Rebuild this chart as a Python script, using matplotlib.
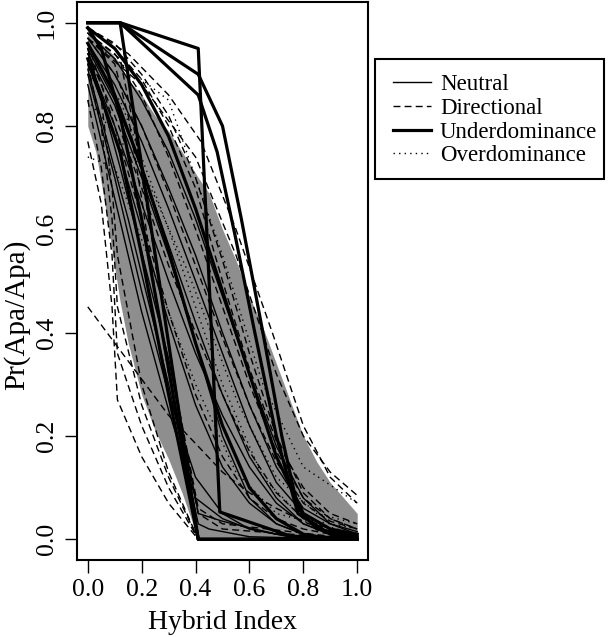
import matplotlib
matplotlib.use("Agg")
import matplotlib.pyplot as plt
from matplotlib.lines import Line2D
from matplotlib.patches import Rectangle

plt.rcParams['font.family'] = ['Liberation Serif', 'DejaVu Serif']

# common hybrid index grid for the smooth clines
hi_grid = [0.0, 0.1, 0.2, 0.3, 0.4, 0.5, 0.6, 0.7, 0.8, 0.9, 1.0]

# grey envelope (neutral expectation)
band_x = [0.0, 0.03, 0.06, 0.09, 0.12, 0.15, 0.2, 0.25, 0.3, 0.35, 0.41, 0.45,
          0.5, 0.55, 0.6, 0.65, 0.7, 0.75, 0.8, 0.85, 0.9, 0.95, 1.0]
band_hi = [0.98, 0.97, 0.955, 0.94, 0.92, 0.89, 0.86, 0.82, 0.79, 0.75, 0.70, 0.67,
           0.60, 0.54, 0.47, 0.41, 0.34, 0.27, 0.20, 0.15, 0.11, 0.08, 0.05]
band_lo = [0.80, 0.75, 0.66, 0.56, 0.46, 0.38, 0.28, 0.21, 0.155, 0.09, 0.0, 0.0,
           0.0, 0.0, 0.0, 0.0, 0.0, 0.0, 0.0, 0.0, 0.0, 0.0, 0.0]

# neutral clines (thin solid)
neutral_y = [
    [0.97, 0.90, 0.80, 0.68, 0.55, 0.40, 0.26, 0.14, 0.06, 0.03, 0.01],
    [0.95, 0.85, 0.72, 0.57, 0.42, 0.28, 0.16, 0.08, 0.03, 0.01, 0.005],
    [0.92, 0.78, 0.60, 0.42, 0.26, 0.14, 0.07, 0.03, 0.01, 0.005, 0.0],
    [0.96, 0.88, 0.77, 0.64, 0.50, 0.36, 0.22, 0.11, 0.05, 0.02, 0.01],
    [0.90, 0.70, 0.48, 0.28, 0.12, 0.05, 0.02, 0.01, 0.0, 0.0, 0.0],
    [0.98, 0.93, 0.85, 0.75, 0.62, 0.47, 0.32, 0.18, 0.08, 0.03, 0.015],
    [0.93, 0.80, 0.65, 0.50, 0.36, 0.24, 0.14, 0.07, 0.03, 0.01, 0.005],
    [0.88, 0.66, 0.44, 0.25, 0.08, 0.04, 0.02, 0.01, 0.0, 0.0, 0.0],
    [0.94, 0.84, 0.70, 0.55, 0.38, 0.20, 0.08, 0.03, 0.01, 0.0, 0.0],
]
neutral_kink_x = [[0.0, 0.12, 0.3, 0.41, 0.5, 0.7, 1.0],
                  [0.0, 0.15, 0.3, 0.41, 0.45, 0.6, 1.0]]
neutral_kink_y = [[0.95, 0.72, 0.35, 0.05, 0.035, 0.01, 0.0],
                  [0.91, 0.62, 0.30, 0.03, 0.02, 0.005, 0.0]]

# directional clines (dashed)
directional_y = [
    [0.98, 0.94, 0.86, 0.74, 0.60, 0.45, 0.30, 0.17, 0.08, 0.04, 0.02],
    [0.97, 0.90, 0.80, 0.67, 0.53, 0.39, 0.26, 0.15, 0.07, 0.035, 0.02],
    [0.96, 0.80, 0.62, 0.44, 0.28, 0.16, 0.08, 0.04, 0.02, 0.01, 0.0],
    [0.94, 0.82, 0.68, 0.53, 0.40, 0.28, 0.17, 0.09, 0.04, 0.02, 0.01],
    [0.99, 0.96, 0.90, 0.82, 0.70, 0.54, 0.36, 0.20, 0.09, 0.04, 0.02],
    [0.99, 0.95, 0.89, 0.80, 0.68, 0.50, 0.33, 0.19, 0.10, 0.05, 0.03],
]
directional_kink_x = [
    [0.0, 0.05, 0.09, 0.11, 0.2, 0.3, 0.41, 1.0],
    [0.0, 0.05, 0.09, 0.11, 0.2, 0.3, 0.41, 1.0],
    [0.0, 0.05, 0.09, 0.11, 0.2, 0.3, 0.41, 1.0],
    [0.0, 0.05, 0.09, 0.11, 0.2, 0.3, 0.41, 1.0],
    [0.0, 0.1, 0.15, 0.2, 0.25, 0.3, 0.41, 0.5, 1.0],
    [0.0, 0.12, 0.17, 0.22, 0.28, 0.34, 0.41, 0.5, 1.0],
    [0.0, 0.1, 0.2, 0.3, 0.41, 0.5, 0.6, 0.7, 0.82, 1.0],
    [0.0, 0.15, 0.3, 0.42, 0.55, 0.685, 0.8, 0.9, 1.0],
    [0.0, 0.2, 0.4, 0.55, 0.7, 0.8, 0.9, 1.0],
]
directional_kink_y = [
    [0.77, 0.65, 0.45, 0.27, 0.16, 0.07, 0.0, 0.0],
    [0.85, 0.72, 0.55, 0.36, 0.22, 0.10, 0.0, 0.0],
    [0.95, 0.85, 0.68, 0.55, 0.30, 0.13, 0.0, 0.0],
    [0.92, 0.80, 0.62, 0.45, 0.26, 0.12, 0.0, 0.0],
    [0.97, 0.92, 0.82, 0.66, 0.48, 0.32, 0.05, 0.02, 0.0],
    [0.98, 0.93, 0.80, 0.64, 0.45, 0.25, 0.06, 0.03, 0.0],
    [0.45, 0.38, 0.31, 0.24, 0.18, 0.13, 0.09, 0.06, 0.03, 0.01],
    [0.99, 0.94, 0.86, 0.77, 0.60, 0.40, 0.22, 0.12, 0.07],
    [0.97, 0.88, 0.74, 0.55, 0.32, 0.20, 0.13, 0.085],
]

# underdominance clines (thick solid)
under_x = [
    [0.0, 0.12, 0.41, 0.49, 0.76, 1.0],
    [0.0, 0.12, 0.41, 0.5, 0.57, 0.65, 0.72, 0.78, 0.85, 1.0],
    [0.0, 0.12, 0.41, 0.48, 0.55, 0.62, 0.70, 0.78, 0.9, 1.0],
    [0.0, 0.12, 0.41, 1.0],
    [0.0, 0.05, 0.12, 0.2, 0.3, 0.41, 1.0],
    [0.0, 0.12, 0.2, 0.3, 0.41, 1.0],
    hi_grid,
    hi_grid,
]
under_y = [
    [1.0, 1.0, 0.95, 0.053, 0.005, 0.0],
    [1.0, 1.0, 0.90, 0.80, 0.62, 0.40, 0.20, 0.06, 0.02, 0.005],
    [1.0, 1.0, 0.86, 0.75, 0.58, 0.40, 0.20, 0.05, 0.01, 0.0],
    [1.0, 1.0, 0.0, 0.0],
    [0.99, 0.95, 0.82, 0.62, 0.33, 0.0, 0.0],
    [0.93, 0.75, 0.55, 0.28, 0.0, 0.0],
    [0.99, 0.95, 0.88, 0.78, 0.64, 0.48, 0.32, 0.16, 0.05, 0.02, 0.01],
    [0.96, 0.86, 0.72, 0.56, 0.38, 0.22, 0.10, 0.04, 0.01, 0.0, 0.0],
]

# overdominance clines (dotted)
over_x = [
    [0.0, 0.1, 0.25, 0.4, 0.55, 0.7, 1.0],
    [0.0, 0.2, 0.37, 0.56, 0.7, 0.85, 1.0],
    [0.0, 0.3, 0.5, 0.65, 0.8, 1.0],
    [0.0, 0.12, 0.3, 0.5, 0.65, 0.8, 1.0],
]
over_y = [
    [0.74, 0.72, 0.51, 0.30, 0.13, 0.05, 0.01],
    [0.85, 0.72, 0.52, 0.26, 0.12, 0.05, 0.03],
    [0.97, 0.85, 0.55, 0.30, 0.14, 0.07],
    [0.90, 0.85, 0.60, 0.30, 0.12, 0.04, 0.02],
]

fig = plt.figure(figsize=(6.14, 6.37), dpi=100)
ax = fig.add_axes([77 / 614, 1 - 560 / 637, 291 / 614, 558 / 637])

ax.fill_between(band_x, band_lo, band_hi, color='#8e8e8e', lw=0)

thin = 1.0
thick = 2.3
for y in neutral_y:
    ax.plot(hi_grid, y, color='black', lw=thin)
for x, y in zip(neutral_kink_x, neutral_kink_y):
    ax.plot(x, y, color='black', lw=thin)
for y in directional_y:
    ax.plot(hi_grid, y, color='black', lw=thin, dashes=(5, 3))
for x, y in zip(directional_kink_x, directional_kink_y):
    ax.plot(x, y, color='black', lw=thin, dashes=(5, 3))
for x, y in zip(under_x, under_y):
    ax.plot(x, y, color='black', lw=thick)
for x, y in zip(over_x, over_y):
    ax.plot(x, y, color='black', lw=thin, dashes=(1, 3))

ax.set_xlim(-0.04, 1.04)
ax.set_ylim(-0.04, 1.04)
ticks = [0.0, 0.2, 0.4, 0.6, 0.8, 1.0]
ax.set_xticks(ticks)
ax.set_yticks(ticks)
ax.set_xticklabels([f"{t:.1f}" for t in ticks])
ax.set_yticklabels([f"{t:.1f}" for t in ticks], rotation=90, va='center')
ax.tick_params(direction='out', length=9, width=1, labelsize=18.5, pad=5)
for s in ax.spines.values():
    s.set_linewidth(1.5)
ax.set_xlabel("Hybrid Index", fontsize=20, labelpad=6)
ax.set_ylabel("Pr(Apa/Apa)", fontsize=21)
ax.yaxis.set_label_coords(-0.16, 0.44)

handles = [
    Line2D([], [], color='black', lw=thin),
    Line2D([], [], color='black', lw=thin, dashes=(5, 3)),
    Line2D([], [], color='black', lw=thick),
    Line2D([], [], color='black', lw=thin, dashes=(1, 3)),
]
labels = ["Neutral", "Directional", "Underdominance", "Overdominance"]
leg = fig.legend(handles, labels, loc='upper left',
                 bbox_to_anchor=(393 / 614, 1 - 74 / 637), borderaxespad=0,
                 fontsize=16.5, frameon=False, handlelength=1.65,
                 handletextpad=0.4, labelspacing=0.12, borderpad=0)
fig.patches.append(Rectangle((375 / 614, 1 - 179 / 637), 229 / 614, 120 / 637,
                             transform=fig.transFigure, fill=False,
                             lw=1.5, ec='black'))

fig.savefig("out.png", dpi=100)
